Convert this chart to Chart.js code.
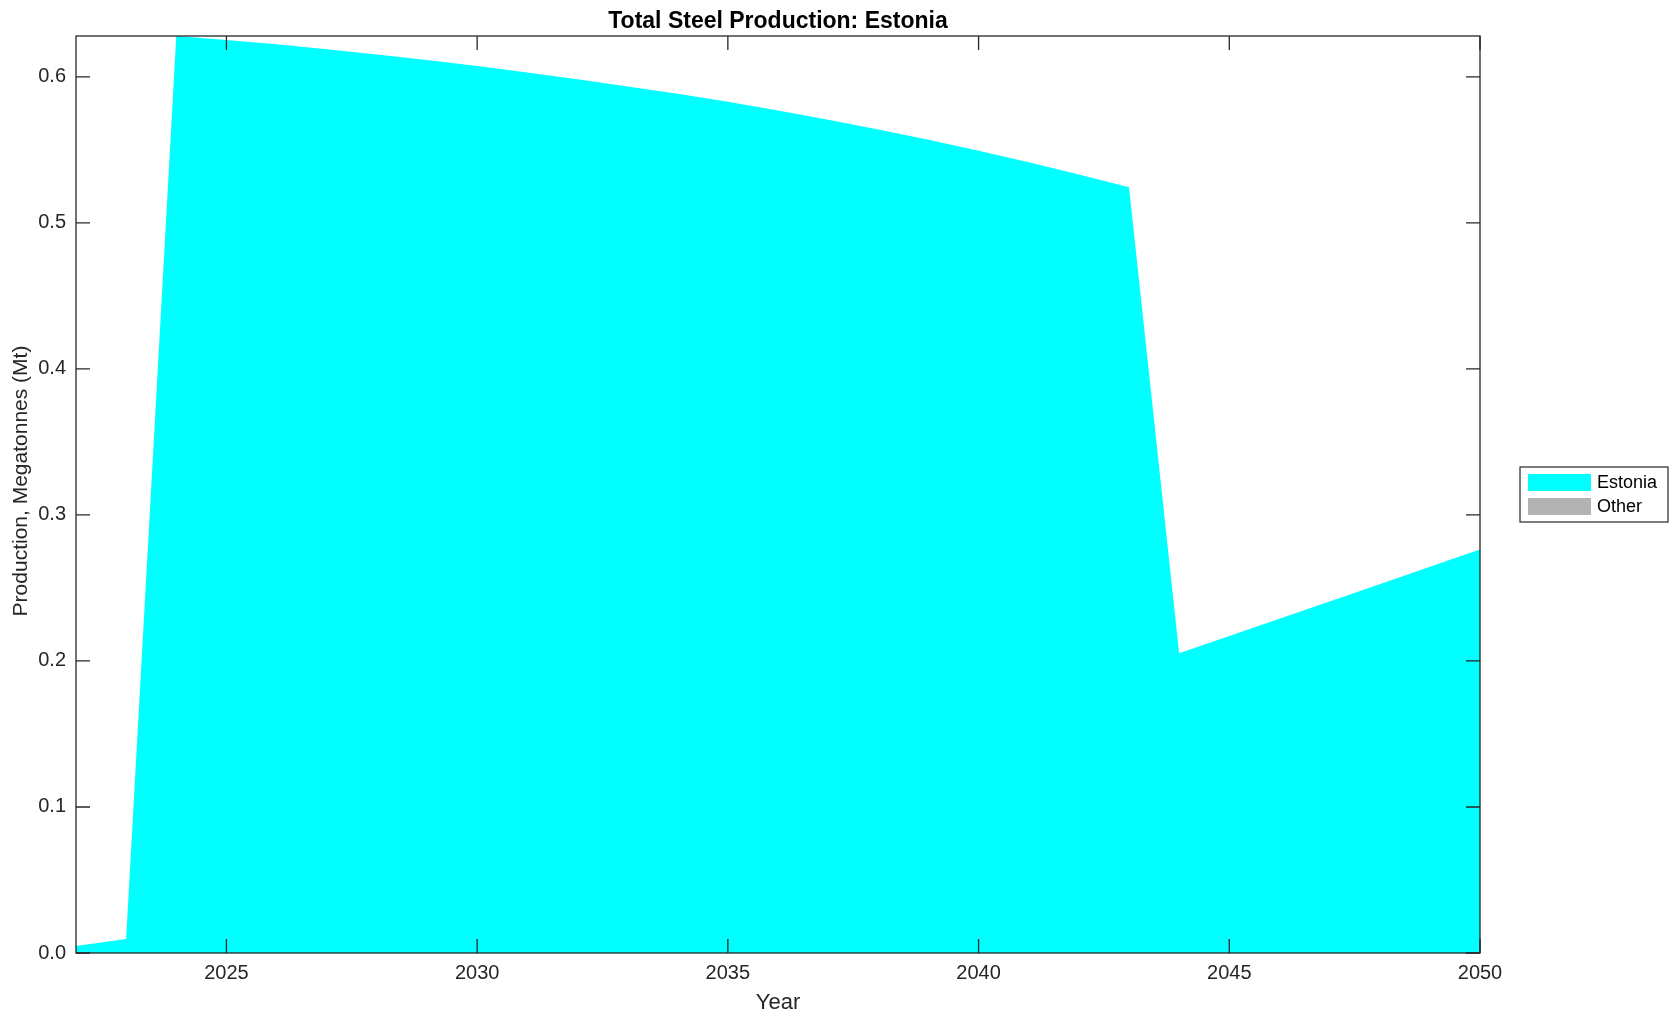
<!DOCTYPE html>
<html>
<head>
<meta charset="utf-8">
<title>Total Steel Production: Estonia</title>
<script src="https://cdn.jsdelivr.net/npm/chart.js@4.4.1/dist/chart.umd.min.js"></script>
<style>
    body { margin: 0; background: #fff; }
    #wrap { width: 1679px; height: 1021px; position: relative; }
</style>
</head>
<body>
<div id="wrap"><canvas id="steelChart"></canvas></div>
<script>
// du lieu doc tu hinh (Mt)
var years = [2022, 2023, 2024, 2025, 2026, 2027, 2028, 2029, 2030, 2031, 2032, 2033, 2034, 2035, 2036,
    2037, 2038, 2039, 2040, 2041, 2042, 2043, 2044, 2045, 2046, 2047, 2048, 2049, 2050];
var estonia = [0.0048, 0.0096, 0.628, 0.6253, 0.6223, 0.6190, 0.6154, 0.6115, 0.6074, 0.6030, 0.5984,
    0.5935, 0.5884, 0.5829, 0.5770, 0.5707, 0.5640, 0.5569, 0.5494, 0.5415, 0.5332, 0.5245,
    0.2053, 0.2171, 0.2289, 0.2408, 0.2526, 0.2645, 0.2763];
var other = [0, 0, 0, 0, 0, 0, 0, 0, 0, 0, 0, 0, 0, 0, 0, 0, 0, 0, 0, 0, 0, 0, 0, 0, 0, 0, 0, 0, 0];
var xTicks = [2025, 2030, 2035, 2040, 2045, 2050];
var yTicks = [0, 0.1, 0.2, 0.3, 0.4, 0.5, 0.6];

var titleText = 'Total Steel Production: Estonia';
var yTitleText = 'Production, Megatonnes (Mt)';
var fontName = "'Liberation Sans', Arial, Helvetica, sans-serif";
var axisColor = '#262626';

function toPoints(arr) {
    var pts = [];
    for (var i = 0; i < years.length; i++) {
        pts.push({ x: years[i], y: arr[i] });
    }
    return pts;
}

// khung hop + vach chia huong vao trong (kieu matlab), tieu de, chu thich
var boxPlugin = {
    id: 'boxTicks',
    afterDraw: function(chart) {
        var ctx = chart.ctx;
        var a = chart.chartArea;
        var xs = chart.scales.x;
        var ys = chart.scales.y;
        var len = 14;
        ctx.save();
        ctx.strokeStyle = axisColor;
        ctx.lineWidth = 1.3;
        ctx.strokeRect(a.left, a.top, a.right - a.left, a.bottom - a.top);
        ctx.beginPath();
        xTicks.forEach(function(v) {
            var px = xs.getPixelForValue(v);
            ctx.moveTo(px, a.bottom);
            ctx.lineTo(px, a.bottom - len);
            ctx.moveTo(px, a.top);
            ctx.lineTo(px, a.top + len);
        });
        yTicks.forEach(function(v) {
            var py = ys.getPixelForValue(v);
            ctx.moveTo(a.left, py);
            ctx.lineTo(a.left + len, py);
            ctx.moveTo(a.right, py);
            ctx.lineTo(a.right - len, py);
        });
        ctx.stroke();

        // tieu de
        ctx.fillStyle = '#000';
        ctx.textAlign = 'center';
        ctx.textBaseline = 'middle';
        ctx.font = 'bold 23px ' + fontName;
        ctx.fillText(titleText, (a.left + a.right) / 2, 21.5);

        // tieu de truc y
        ctx.save();
        ctx.translate(21, 481);
        ctx.rotate(-Math.PI / 2);
        ctx.fillStyle = axisColor;
        ctx.font = '21px ' + fontName;
        ctx.fillText(yTitleText, 0, 0);
        ctx.restore();

        // chu thich ben phai
        var lx = 1520, ly = 467, lw = 148, lh = 55;
        ctx.fillStyle = '#fff';
        ctx.fillRect(lx, ly, lw, lh);
        ctx.strokeStyle = axisColor;
        ctx.lineWidth = 1.2;
        ctx.strokeRect(lx, ly, lw, lh);
        ctx.font = '18px ' + fontName;
        ctx.textBaseline = 'middle';
        ctx.textAlign = 'left';
        chart.data.datasets.forEach(function(ds, i) {
            var sy = ly + 7 + i * 24;
            ctx.fillStyle = ds.backgroundColor;
            ctx.fillRect(lx + 8, sy, 63, 17);
            ctx.fillStyle = '#000';
            ctx.fillText(ds.label, lx + 77, sy + 9);
        });
        ctx.restore();
    }
};

var ctx = document.getElementById('steelChart').getContext('2d');
new Chart(ctx, {
    type: 'line',
    data: {
        datasets: [{
            label: 'Estonia',
            data: toPoints(estonia),
            backgroundColor: '#00ffff',
            borderColor: 'rgba(0,0,0,0)',
            borderWidth: 0,
            pointRadius: 0,
            tension: 0,
            fill: 'origin'
        }, {
            label: 'Other',
            data: toPoints(other),
            backgroundColor: '#b3b3b3',
            borderColor: 'rgba(0,0,0,0)',
            borderWidth: 0,
            pointRadius: 0,
            tension: 0,
            fill: '-1'
        }]
    },
    options: {
        responsive: true,
        maintainAspectRatio: false,
        animation: false,
        layout: { padding: { left: 0, right: 199, top: 36, bottom: 0 } },
        plugins: {
            legend: { display: false },
            tooltip: { enabled: false },
            title: { display: false }
        },
        scales: {
            x: {
                type: 'linear',
                min: 2022,
                max: 2050,
                grid: { display: false, drawTicks: false },
                border: { display: false },
                afterBuildTicks: function(scale) {
                    scale.ticks = xTicks.map(function(v) { return { value: v }; });
                },
                afterFit: function(scale) { scale.height = 68; },
                ticks: {
                    color: axisColor,
                    padding: 8,
                    maxRotation: 0,
                    font: { family: fontName, size: 20 },
                    callback: function(v) { return String(v); }
                },
                title: {
                    display: true,
                    text: 'Year',
                    color: axisColor,
                    font: { family: fontName, size: 22 },
                    padding: { top: 0, bottom: 5 }
                }
            },
            y: {
                stacked: true,
                min: 0,
                max: 0.628,
                grid: { display: false, drawTicks: false },
                border: { display: false },
                afterBuildTicks: function(scale) {
                    scale.ticks = yTicks.map(function(v) { return { value: v }; });
                },
                afterFit: function(scale) { scale.width = 76; },
                ticks: {
                    color: axisColor,
                    padding: 10,
                    font: { family: fontName, size: 20 },
                    callback: function(v) { return v.toFixed(1); }
                }
            }
        }
    },
    plugins: [boxPlugin]
});
</script>
</body>
</html>
